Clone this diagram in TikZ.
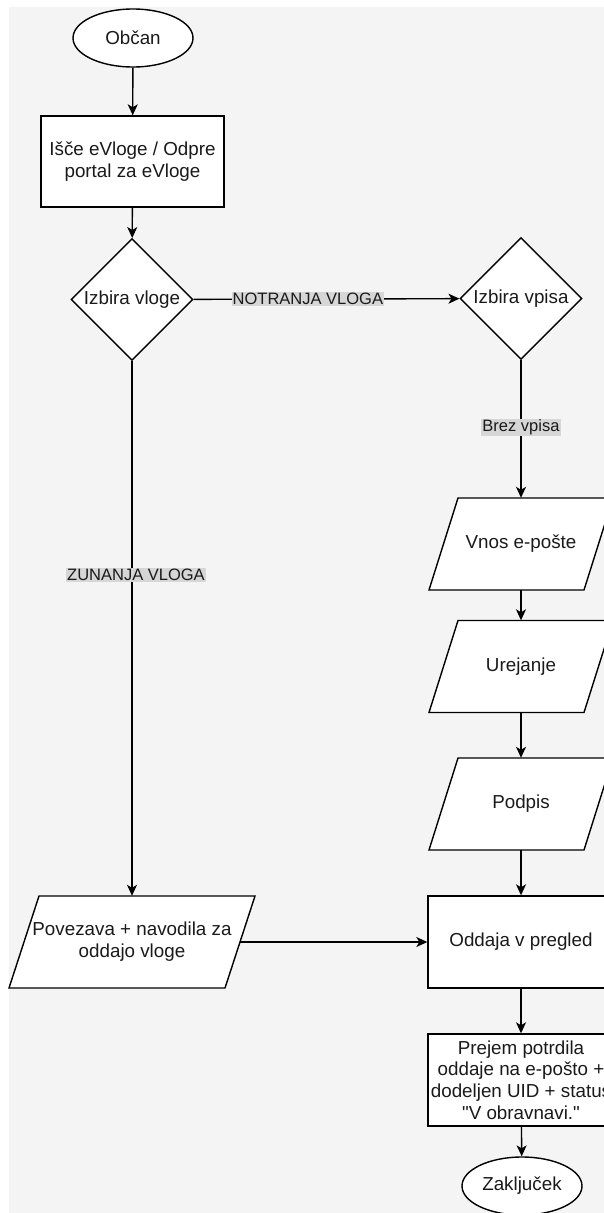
\documentclass[tikz,border=0pt]{standalone}
\usepackage{fontspec}
\setmainfont{Liberation Sans}[Ligatures=TeXOff]
\usetikzlibrary{shapes.geometric,arrows.meta}
\definecolor{bggray}{RGB}{244,244,244}
\definecolor{lblgray}{RGB}{214,214,214}
\definecolor{txt}{RGB}{26,26,26}
\newcommand\paranode[6]{%
  \draw[line width=1.4pt, fill=white] (#2-#4/2,#3+46) -- (#2-#4/2+#5,#3-46) -- (#2+#4/2,#3-46) -- (#2+#4/2-#5,#3+46) -- cycle;
  \node[iotext, minimum width=#4pt] (#1) at (#2,#3) {#6};}
\begin{document}
\begin{tikzpicture}[x=1pt,y=-1pt,
  base/.style={draw=black, line width=1.4pt, fill=white, text=txt, font=\fontsize{18.8pt}{21.8pt}\selectfont, align=center, inner sep=0pt},
  term/.style={base, ellipse, minimum width=120pt, minimum height=58pt},
  proc/.style={base, rectangle, minimum width=186pt, minimum height=92pt},
  dec/.style={base, diamond, minimum width=122pt, minimum height=122pt},
  iotext/.style={text=txt, font=\fontsize{18.8pt}{21.8pt}\selectfont, align=center, inner sep=0pt, minimum height=92pt},
  arr/.style={draw=black, line width=1.4pt, -{Stealth[length=11pt,width=10pt,inset=3pt]}},
  lbl/.style={fill=lblgray, text=txt, font=\fontsize{16.5pt}{19pt}\selectfont, inner sep=1pt}
]
\clip (0,0) rectangle (604,1213);
\fill[white] (0,0) rectangle (604,1213);
\fill[bggray] (9,7) rectangle (604,1213);

\node[term] (obcan) at (133,38) {Občan};
\node[proc, minimum width=183pt, minimum height=91pt] (isce) at (132.5,161.5) {Išče eVloge / Odpre\\portal za eVloge};
\node[dec] (izv) at (132,299.5) {Izbira vloge};
\node[dec] (izp) at (521,298.5) {Izbira vpisa};

\paranode{vnos}{521}{544}{184}{29}{Vnos e-pošte}
\paranode{urej}{521}{666.5}{184}{29}{Urejanje}
\paranode{podpis}{521}{804}{184}{29}{Podpis}
\paranode{pov}{132}{942}{246}{30}{Povezava + navodila za\\oddajo vloge}

\node[proc] (oddaja) at (521,942) {Oddaja v pregled};
\node[proc] (prejem) at (521,1080) {Prejem potrdila\\oddaje na e-pošto +\\dodeljen UID + status\\"V obravnavi."};
\node[term] (zak) at (522,1186) {Zaključek};

\draw[arr] (obcan) -- (isce);
\draw[arr] (isce) -- (izv);
\draw[arr] (izv) -- node[lbl, pos=0.43]{NOTRANJA VLOGA} (izp);
\draw[arr] (izv) -- node[lbl, pos=0.40, xshift=4pt]{ZUNANJA VLOGA} (pov);
\draw[arr] (izp) -- node[lbl, pos=0.49]{Brez vpisa} (vnos);
\draw[arr] (vnos) -- (urej);
\draw[arr] (urej) -- (podpis);
\draw[arr] (podpis) -- (oddaja);
\draw[arr] ([xshift=-15pt]pov.east) -- (oddaja.west);
\draw[arr] (oddaja) -- (prejem);
\draw[arr] (prejem) -- (zak);
\end{tikzpicture}
\end{document}
